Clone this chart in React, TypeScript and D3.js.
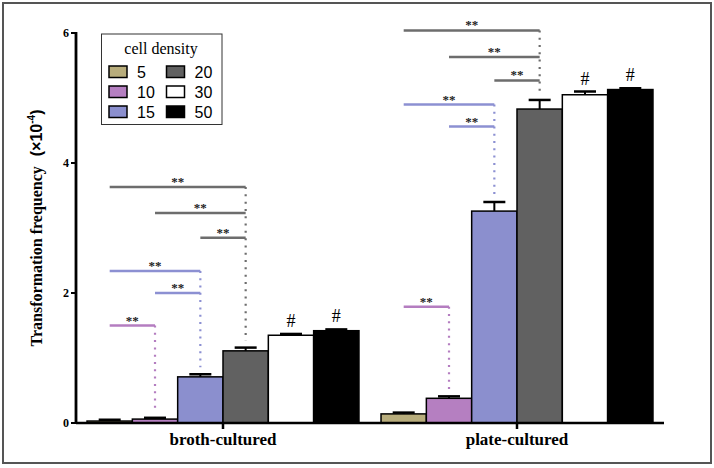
import React from "react";
import * as d3 from "d3";

const groups = ["broth-cultured", "plate-cultured"];
const densities = ["5", "10", "15", "20", "30", "50"];
const brothMeans = [0.03, 0.06, 0.71, 1.11, 1.35, 1.42];
const brothErrors = [0.02, 0.02, 0.04, 0.05, 0.02, 0.02];
const plateMeans = [0.14, 0.38, 3.26, 4.83, 5.05, 5.13];
const plateErrors = [0.02, 0.03, 0.14, 0.14, 0.05, 0.02];
const yTicks = [0, 2, 4, 6];
const barColors = ["#b8ad7c", "#b57fc1", "#8b8fce", "#616161", "#ffffff", "#000000"];

// significance comparisons: [from density index, to density index, line level]
const brothSig: [number, number, number][] = [
  [0, 3, 3.63], [1, 3, 3.23], [2, 3, 2.85],
  [0, 2, 2.34], [1, 2, 2.0],
  [0, 1, 1.5],
];
const plateSig: [number, number, number][] = [
  [0, 3, 6.04], [1, 3, 5.63], [2, 3, 5.27],
  [0, 2, 4.9], [1, 2, 4.56],
  [0, 1, 1.79],
];
const hashBars = [4, 5];
const sigColors: Record<number, string> = { 1: "#b47dc0", 2: "#8c90d2", 3: "#6d6d6d" };

export default function App() {
  const W = 714, H = 468;
  const x0 = d3.scaleBand().domain(groups).range([76, 664]).paddingInner(0.075).paddingOuter(0.0375);
  const x1 = d3.scaleBand().domain(densities).range([0, x0.bandwidth()]);
  const y = d3.scaleLinear().domain([0, 6]).range([423, 33]);
  const means = [brothMeans, plateMeans];
  const errs = [brothErrors, plateErrors];
  const sigs = [brothSig, plateSig];
  const serif = "'Liberation Serif', 'Times New Roman', serif";
  const sans = "'Liberation Sans', Arial, sans-serif";

  return (
    <svg width={W} height={H} style={{ position: "absolute", left: 0, top: 0, background: "#fff" }}>
      <rect x={3} y={3} width={708} height={460} fill="#fff" stroke="#555" strokeWidth={2} />
      {groups.map((g, gi) => {
        const gx = x0(g)!;
        const bw = x1.bandwidth();
        const cx = (i: number) => gx + x1(densities[i])! + bw / 2;
        return (
          <g key={g}>
            {densities.map((d, i) => {
              const m = means[gi][i];
              const e = errs[gi][i];
              return (
                <g key={d}>
                  <line x1={cx(i)} x2={cx(i)} y1={y(m)} y2={y(m + e)} stroke="#000" strokeWidth={2} />
                  <line x1={cx(i) - 11} x2={cx(i) + 11} y1={y(m + e)} y2={y(m + e)} stroke="#000" strokeWidth={2.5} />
                  <rect x={gx + x1(d)!} y={y(m)} width={bw} height={y(0) - y(m)} fill={barColors[i]} stroke="#000" strokeWidth={1.5} />
                </g>
              );
            })}
            {[3, 2, 1].map((t) => {
              const top = d3.max(sigs[gi].filter((s) => s[1] === t), (s) => s[2])!;
              const bottom = y(means[gi][t] + errs[gi][t]) - 7;
              return (
                <line key={"v" + t} x1={cx(t)} x2={cx(t)} y1={y(top)} y2={bottom}
                  stroke={sigColors[t]} strokeWidth={2.2} strokeDasharray="2,5.3" />
              );
            })}
            {sigs[gi].map(([a, b, lv], k) => (
              <g key={"s" + k}>
                <line x1={cx(a)} x2={cx(b)} y1={y(lv)} y2={y(lv)} stroke={sigColors[b]} strokeWidth={2.5} />
                <text x={(cx(a) + cx(b)) / 2} y={y(lv) - 1} textAnchor="middle" fontFamily={serif}
                  fontWeight="bold" fontSize={13} fill="#222">**</text>
              </g>
            ))}
            {hashBars.map((i) => (
              <text key={"h" + i} x={cx(i)} y={y(means[gi][i] + errs[gi][i]) - 7} textAnchor="middle"
                fontFamily={serif} fontSize={18} fill="#000">#</text>
            ))}
            <line x1={gx + x0.bandwidth() / 2} x2={gx + x0.bandwidth() / 2} y1={423} y2={429} stroke="#000" strokeWidth={2.5} />
            <text x={gx + x0.bandwidth() / 2} y={445} textAnchor="middle" fontFamily={serif}
              fontWeight="bold" fontSize={17} fill="#000">{g}</text>
          </g>
        );
      })}
      {/* axes */}
      <line x1={76} x2={664} y1={423} y2={423} stroke="#000" strokeWidth={2.5} />
      <line x1={76} x2={76} y1={32} y2={424} stroke="#000" strokeWidth={2.8} />
      {yTicks.map((t) => (
        <g key={t}>
          <line x1={71} x2={76} y1={y(t)} y2={y(t)} stroke="#000" strokeWidth={2} />
          <text x={69} y={y(t) + 4} textAnchor="end" fontFamily={serif} fontWeight="bold" fontSize={12}>{t}</text>
        </g>
      ))}
      <text transform="translate(42,228) rotate(-90)" textAnchor="middle" fontSize={16} fontWeight="bold" fill="#000">
        <tspan fontFamily={serif}>Transformation frequency</tspan>
        <tspan fontFamily={sans} dx={10}>(×10</tspan>
        <tspan fontFamily={sans} fontSize={10} dy={-7}>-4</tspan>
        <tspan fontFamily={sans} dy={7}>)</tspan>
      </text>
      {/* legend */}
      <rect x={101.5} y={34} width={120.5} height={90.5} fill="#fff" stroke="#333" strokeWidth={1} />
      <text x={161} y={54} textAnchor="middle" fontFamily={serif} fontSize={16}>cell density</text>
      {densities.map((d, i) => {
        const col = Math.floor(i / 3);
        const row = i % 3;
        const sx = 109 + col * 57.5;
        const sy = 66 + row * 20;
        return (
          <g key={"l" + d}>
            <rect x={sx} y={sy} width={18} height={11.5} fill={barColors[i]} stroke="#000" strokeWidth={1.5} />
            <text x={sx + 28} y={sy + 12} fontFamily={sans} fontSize={16}>{d}</text>
          </g>
        );
      })}
    </svg>
  );
}
